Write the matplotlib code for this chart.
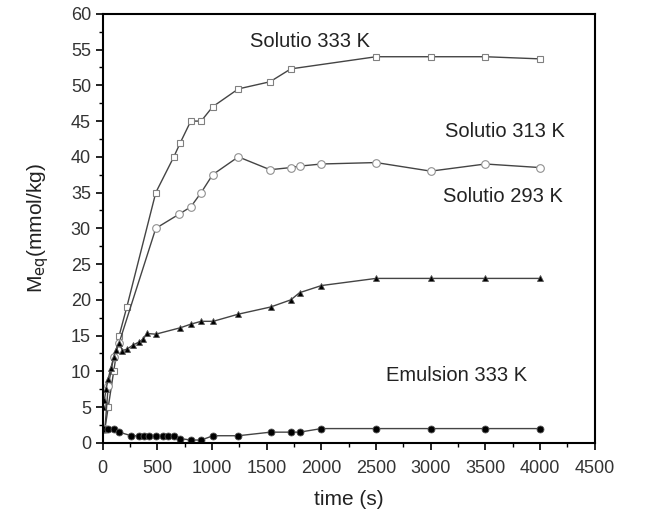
import matplotlib.pyplot as plt
from matplotlib.ticker import MultipleLocator

plt.rcParams['font.family'] = ['Liberation Sans', 'DejaVu Sans']

# Solutio 333 K (open squares)
t_333 = [0, 20, 50, 100, 150, 220, 485, 650, 710, 805, 900, 1005, 1240,
         1530, 1720, 2500, 3000, 3500, 4000]
m_333 = [2, 2, 5, 10, 15, 19, 35, 40, 42, 45, 45, 47, 49.5,
         50.5, 52.3, 54, 54, 54, 53.7]

# Solutio 313 K (open circles)
t_313 = [0, 20, 50, 100, 150, 485, 700, 805, 900, 1005, 1240, 1530, 1720,
         1800, 2000, 2500, 3000, 3500, 4000]
m_313 = [2, 2, 8, 12, 14, 30, 32, 33, 35, 37.5, 40, 38.2, 38.5,
         38.7, 39, 39.2, 38, 39, 38.5]

# Solutio 293 K (filled triangles)
t_293 = [0, 15, 30, 50, 75, 100, 120, 150, 180, 220, 280, 330, 370, 405,
         485, 710, 805, 900, 1010, 1240, 1535, 1720, 1800, 2000, 2500, 3000,
         3500, 4000]
m_293 = [5, 6, 7.5, 9, 10.5, 12, 13, 14, 12.9, 13.1, 13.7, 14.1, 14.5, 15.3,
         15.2, 16.1, 16.6, 17, 17, 18, 19, 20, 21, 22, 23, 23,
         23, 23]

# Emulsion 333 K (filled circles)
t_emu = [0, 50, 100, 150, 260, 330, 380, 420, 485, 550, 600, 655, 710,
         805, 900, 1010, 1240, 1535, 1720, 1800, 2000, 2500, 3000, 3500, 4000]
m_emu = [2, 2, 2, 1.5, 1, 1, 1, 1, 1, 1, 1, 1, 0.6,
         0.4, 0.4, 1, 1, 1.5, 1.5, 1.5, 2, 2, 2, 2, 2]

fig = plt.figure(figsize=(6.63, 5.12), dpi=100)
ax = fig.add_axes([0.155, 0.135, 0.742, 0.838])

line_c = '#444444'
ax.plot(t_333, m_333, color=line_c, lw=1, marker='s', ms=4.5, mfc='white',
        mec='#808080', mew=0.8)
ax.plot(t_313, m_313, color=line_c, lw=1, marker='o', ms=5.5, mfc='white',
        mec='#909090', mew=0.8)
ax.plot(t_293, m_293, color=line_c, lw=1, marker='^', ms=5, mfc='black',
        mec='#555555', mew=0.6)
ax.plot(t_emu, m_emu, color=line_c, lw=1, marker='o', ms=5, mfc='black',
        mec='#555555', mew=0.6)

txt = dict(fontsize=14.5, color='#222222', va='center')
ax.text(1345, 56.1, 'Solutio 333 K', **txt)
ax.text(3130, 43.6, 'Solutio 313 K', **txt)
ax.text(3110, 34.4, 'Solutio 293 K', **txt)
ax.text(2590, 9.4, 'Emulsion 333 K', **txt)

ax.set_xlim(0, 4500)
ax.set_ylim(0, 60)
ax.xaxis.set_major_locator(MultipleLocator(500))
ax.xaxis.set_minor_locator(MultipleLocator(250))
ax.yaxis.set_major_locator(MultipleLocator(5))
ax.yaxis.set_minor_locator(MultipleLocator(2.5))
ax.tick_params(which='both', direction='out', top=False, right=False,
               labelsize=13, labelcolor='#333333')
ax.tick_params(axis='x', which='major', pad=7)
ax.tick_params(which='major', length=5, width=1.2)
ax.tick_params(which='minor', length=3, width=1)
for s in ax.spines.values():
    s.set_linewidth(1.5)

ax.set_xlabel('time (s)', fontsize=15, color='#222222', labelpad=10)
ax.set_ylabel(r'M$_{\rm eq}$(mmol/kg)', fontsize=15, color='#222222',
              labelpad=14)

fig.savefig('out.png', dpi=100)
